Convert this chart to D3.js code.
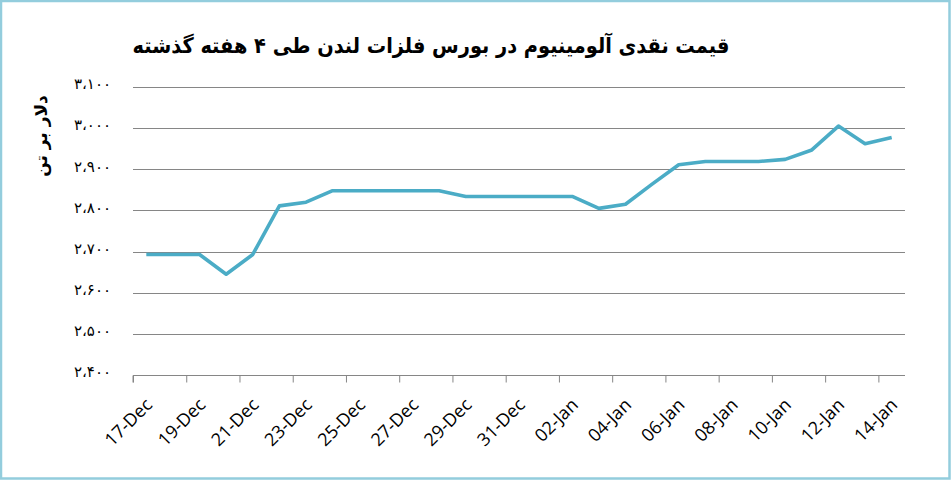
<!DOCTYPE html>
<html lang="fa">
<head>
    <meta charset="UTF-8">
    <title>Aluminium</title>
    <style>
        body { margin: 0; background: #fff; }
        svg { display: block; }
        .grid line { stroke: #868686; stroke-width: 1; }
        .xlab { font-family: "Open Sans", sans-serif; font-size: 18px; fill: #000; }
        .ylab { font-family: "DejaVu Sans", sans-serif; font-size: 15px; letter-spacing: 1.5px; fill: #000; }
    </style>
</head>
<body>
    <svg></svg>
    <script src="https://d3js.org/d3.v7.min.js"></script>
    <script>
// dates (one point per calendar day) and cash price, USD/tonne
let dates = ["2021-12-17","2021-12-18","2021-12-19","2021-12-20","2021-12-21","2021-12-22",
    "2021-12-23","2021-12-24","2021-12-25","2021-12-26","2021-12-27","2021-12-28","2021-12-29",
    "2021-12-30","2021-12-31","2022-01-01","2022-01-02","2022-01-03","2022-01-04","2022-01-05",
    "2022-01-06","2022-01-07","2022-01-08","2022-01-09","2022-01-10","2022-01-11","2022-01-12",
    "2022-01-13","2022-01-14"];
let prices = [2693, 2693, 2693, 2645, 2693, 2811, 2820, 2848, 2848, 2848, 2848, 2848, 2834,
    2834, 2834, 2834, 2834, 2805, 2815, 2864, 2911, 2919, 2919, 2919, 2924, 2947, 3005, 2962, 2977];
let yTicks = [2400, 2500, 2600, 2700, 2800, 2900, 3000, 3100];

let title = "قیمت نقدی آلومینیوم در بورس فلزات لندن طی ۴ هفته گذشته";
let yTitle = "دلار بر تن";

let width = 951, height = 480;
let svg = d3.select("svg").attr("width", width).attr("height", height);

let parse = d3.utcParse("%Y-%m-%d");
let days = dates.map(parse);
let first = days[0], last = d3.utcDay.offset(days[days.length - 1], 1);

let x = d3.scaleUtc().domain([first, last]).range([133, 905]);
let y = d3.scaleLinear().domain([2400, 3100]).range([375, 87]);

// persian digits with arabic comma
let fa = "۰۱۲۳۴۵۶۷۸۹";
let toFa = v => d3.format(",")(v).replace(/,/g, "،").replace(/\d/g, c => fa[+c]);

// gridlines
svg.append("g").attr("class", "grid")
    .selectAll("line")
    .data(yTicks)
    .enter().append("line")
        .attr("x1", 133).attr("x2", 905)
        .attr("y1", d => Math.round(y(d)) + 0.5)
        .attr("y2", d => Math.round(y(d)) + 0.5);

// y labels
svg.append("g")
    .selectAll("text")
    .data(yTicks)
    .enter().append("text")
        .attr("class", "ylab")
        .attr("x", 111)
        .attr("y", d => y(d))
        .attr("dy", "0.15em")
        .attr("text-anchor", "end")
        .text(d => toFa(d));

// x axis, tick every 2 days at day boundary
let tickDays = d3.utcDay.range(first, last, 2);
let xAxis = d3.axisBottom(x).tickValues(tickDays).tickSize(7).tickFormat("");
let gx = svg.append("g")
    .attr("transform", "translate(0," + (Math.round(y(2400)) + 0.5) + ")")
    .call(xAxis);
gx.select(".domain").attr("stroke", "#868686").attr("d", "M" + x(first) + ",7V0H" + x(last));
gx.selectAll(".tick line").attr("stroke", "#868686");

let fmt = d3.utcFormat("%d-%b");
svg.append("g")
    .selectAll("text")
    .data(tickDays)
    .enter().append("text")
        .attr("class", "xlab")
        .attr("text-anchor", "end")
        .attr("transform", d => {
            let xc = x(d3.utcHour.offset(d, 12));
            return "translate(" + (xc + 7) + ",406) rotate(-45)";
        })
        .text(d => fmt(d));

// line
let line = d3.line()
    .x((d, i) => x(d3.utcHour.offset(days[i], 12)))
    .y(d => y(d));
svg.append("path")
    .datum(prices)
    .attr("d", line)
    .attr("fill", "none")
    .attr("stroke", "#4bacc6")
    .attr("stroke-width", 3.6)
    .attr("stroke-linejoin", "round");

// titles
svg.append("text")
    .attr("x", 431).attr("y", 53)
    .attr("text-anchor", "middle")
    .attr("direction", "rtl")
    .style("font-family", "DejaVu Sans Condensed, DejaVu Sans, sans-serif")
    .style("font-weight", "bold")
    .style("font-size", "21.5px")
    .text(title);

svg.append("text")
    .attr("transform", "translate(47,136) rotate(-90)")
    .attr("text-anchor", "middle")
    .attr("direction", "rtl")
    .style("font-family", "DejaVu Sans, sans-serif")
    .style("font-weight", "bold")
    .style("font-size", "17px")
    .text(yTitle);

// chart frame
svg.append("rect")
    .attr("x", 1).attr("y", 1)
    .attr("width", width - 2.5).attr("height", height - 2.5)
    .attr("fill", "none")
    .attr("stroke", "#93cddd")
    .attr("stroke-width", 2.5);
    </script>
</body>
</html>
